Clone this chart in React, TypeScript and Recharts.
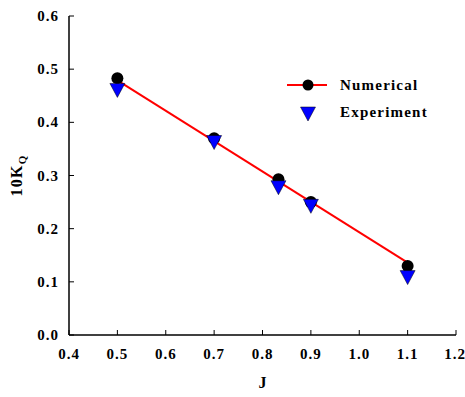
import React from 'react';
import { ComposedChart, Scatter, XAxis, YAxis } from 'recharts';

const numericalJ = [0.5, 0.7, 0.833, 0.9, 1.1];
const numericalK = [0.483, 0.37, 0.293, 0.25, 0.13];
const experimentJ = [0.5, 0.7, 0.833, 0.9, 1.1];
const experimentK = [0.46, 0.362, 0.277, 0.242, 0.108];
const fitJ = [0.5, 1.1];
const fitK = [0.479, 0.136];
const xTicks = [0.4, 0.5, 0.6, 0.7, 0.8, 0.9, 1.0, 1.1, 1.2];
const yTicks = [0.0, 0.1, 0.2, 0.3, 0.4, 0.5, 0.6];

const numericalData = numericalJ.map((x, i) => ({ x, y: numericalK[i] }));
const experimentData = experimentJ.map((x, i) => ({ x, y: experimentK[i] }));
const fitData = fitJ.map((x, i) => ({ x, y: fitK[i] }));

const FONT = "'Liberation Serif', 'Times New Roman', 'DejaVu Serif', serif";
const textProps = { fontFamily: FONT, fontWeight: 700, fontSize: 15, fill: '#000', letterSpacing: 1 };

const XTick = (props: any) => {
  const { x, y, payload } = props;
  return (
    <text x={x} y={y} dy={12} textAnchor="middle" {...textProps}>
      {Number(payload.value).toFixed(1)}
    </text>
  );
};

const YTick = (props: any) => {
  const { x, y, payload } = props;
  return (
    <text x={x} y={y} dy={5} textAnchor="end" {...textProps}>
      {Number(payload.value).toFixed(1)}
    </text>
  );
};

const Dot = (props: any) => {
  const { cx, cy } = props;
  if (cx == null || cy == null) return null;
  return <circle cx={cx} cy={cy} r={6} fill="#000" />;
};

const Tri = (props: any) => {
  const { cx, cy } = props;
  if (cx == null || cy == null) return null;
  const w = 7.5, h = 7;
  return <path d={`M${cx - w},${cy - h} L${cx + w},${cy - h} L${cx},${cy + h} Z`} fill="#0000ff" stroke="#000" strokeWidth={0.5} />;
};

const Nothing = () => null;

const YLabel = (props: any) => {
  const vb = props.viewBox || { x: 0, y: 0, height: 0 };
  const cx = 22;
  const cy = vb.y + vb.height / 2;
  return (
    <text
      transform={`translate(${cx},${cy}) rotate(-90)`}
      textAnchor="middle"
      fontFamily={FONT}
      fontWeight={700}
      fontSize={16}
      fill="#000"
      letterSpacing={1.2}
    >
      10K<tspan fontSize={11} dy={4}>Q</tspan>
    </text>
  );
};

const XLabel = (props: any) => {
  const vb = props.viewBox || { x: 0, y: 0, width: 0 };
  return (
    <text x={vb.x + vb.width / 2} y={388} textAnchor="middle" fontFamily={FONT} fontWeight={700} fontSize={16} fill="#000">
      J
    </text>
  );
};

const legendText = { fontFamily: FONT, fontWeight: 700, fontSize: 15, fill: '#000', letterSpacing: 1.2 };

export default function App() {
  return (
    <div style={{ position: 'absolute', left: 0, top: 0, width: 465, height: 397, background: '#fff' }}>
      <ComposedChart width={465} height={397} margin={{ top: 16, right: 9, bottom: 22, left: 9 }}>
        <XAxis
          type="number"
          dataKey="x"
          domain={[0.4, 1.2]}
          ticks={xTicks}
          allowDataOverflow
          height={40}
          tickSize={-5}
          tickMargin={17}
          tick={<XTick />}
          axisLine={{ stroke: '#000', strokeWidth: 1.5 }}
          tickLine={{ stroke: '#000', strokeWidth: 1 }}
          label={<XLabel />}
        />
        <YAxis
          type="number"
          dataKey="y"
          domain={[0, 0.6]}
          ticks={yTicks}
          allowDataOverflow
          width={60}
          tickSize={-5}
          tickMargin={15}
          tick={<YTick />}
          axisLine={{ stroke: '#000', strokeWidth: 1.5 }}
          tickLine={{ stroke: '#000', strokeWidth: 1 }}
          label={<YLabel />}
        />
        <Scatter
          name="fit"
          data={fitData}
          line={{ stroke: '#ff0000', strokeWidth: 2 }}
          shape={<Nothing />}
          isAnimationActive={false}
          legendType="none"
        />
        <Scatter name="Numerical" data={numericalData} shape={<Dot />} isAnimationActive={false} />
        <Scatter name="Experiment" data={experimentData} shape={<Tri />} isAnimationActive={false} />
      </ComposedChart>
      <svg width={160} height={55} style={{ position: 'absolute', left: 287, top: 75, overflow: 'visible' }}>
        <line x1={0} y1={10} x2={40} y2={10} stroke="#ff0000" strokeWidth={2} />
        <circle cx={21} cy={10} r={5.5} fill="#000" />
        <text x={53} y={15} {...legendText}>Numerical</text>
        <path d="M13.5,32 L28.5,32 L21,46 Z" fill="#0000ff" stroke="#000" strokeWidth={0.5} />
        <text x={53} y={42} {...legendText}>Experiment</text>
      </svg>
    </div>
  );
}
